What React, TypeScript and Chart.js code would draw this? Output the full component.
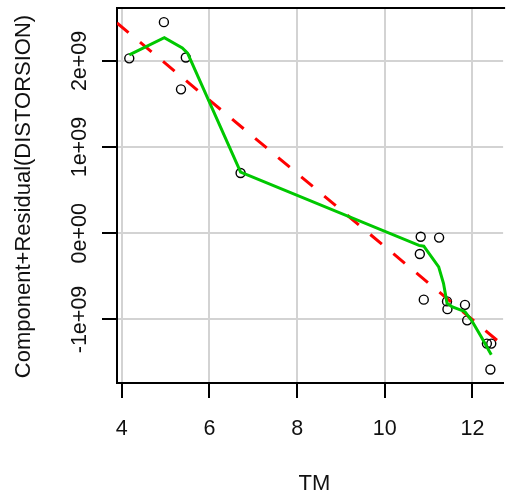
import React, { useEffect, useRef } from "react";
import { Chart, registerables } from "chart.js";

Chart.register(...registerables);

// Observed points (TM vs component+residual)
const TM_VALUES = [4.17, 4.96, 5.35, 5.46, 6.71, 10.80, 10.82, 10.89, 11.24, 11.42, 11.43, 11.83, 11.88, 12.33, 12.43, 12.41];
const RESIDUALS = [2.03e9, 2.45e9, 1.67e9, 2.04e9, 0.70e9, -0.24e9, -0.04e9, -0.77e9, -0.05e9, -0.79e9, -0.88e9, -0.83e9, -1.01e9, -1.28e9, -1.28e9, -1.58e9];

// Smoothed (lowess) curve
const SMOOTH_TM = [4.17, 4.97, 5.38, 5.50, 6.71, 10.78, 10.89, 11.23, 11.34, 11.42, 11.53, 11.83, 11.98, 12.20, 12.43];
const SMOOTH_FIT = [2.07e9, 2.27e9, 2.15e9, 2.09e9, 0.71e9, -0.14e9, -0.15e9, -0.39e9, -0.58e9, -0.81e9, -0.85e9, -0.91e9, -1.01e9, -1.20e9, -1.41e9];

// Linear fit line (end points at plot edges)
const FIT_TM = [3.89, 12.70];
const FIT_VALUES = [2.44e9, -1.30e9];

const X_TICKS = [4, 6, 8, 10, 12];
const X_TICK_LABELS = ["4", "6", "8", "10", "12"];
const Y_TICKS = [-1e9, 0, 1e9, 2e9];
const Y_TICK_LABELS = ["-1e+09", "0e+00", "1e+09", "2e+09"];
const X_LABEL = "TM";
const Y_LABEL = "Component+Residual(DISTORSION)";

const X_MIN = 3.89;
const X_MAX = 12.7;
const Y_MIN = -1.737e9;
const Y_MAX = 2.614e9;

const FONT = '"Liberation Sans", Arial, sans-serif';

const rLabels = {
  id: "rLabels",
  afterDraw(chart: any) {
    const ctx = chart.ctx as CanvasRenderingContext2D;
    const { left, top, right, bottom } = chart.chartArea;
    const xs = chart.scales.x;
    const ys = chart.scales.y;
    ctx.save();
    // top frame line
    ctx.strokeStyle = "#000";
    ctx.lineWidth = 2;
    ctx.beginPath();
    ctx.moveTo(left, top);
    ctx.lineTo(right + 2, top);
    ctx.stroke();

    ctx.fillStyle = "#111";
    ctx.font = `21.5px ${FONT}`;
    ctx.textAlign = "center";
    ctx.textBaseline = "alphabetic";
    X_TICKS.forEach((v, i) => {
      ctx.fillText(X_TICK_LABELS[i], xs.getPixelForValue(v), bottom + 52);
    });
    Y_TICKS.forEach((v, i) => {
      ctx.save();
      ctx.translate(85.5, ys.getPixelForValue(v));
      ctx.rotate(-Math.PI / 2);
      ctx.fillText(Y_TICK_LABELS[i], 0, 0);
      ctx.restore();
    });
    ctx.font = `22px ${FONT}`;
    ctx.fillText(X_LABEL, 314.5, 490);
    ctx.save();
    ctx.translate(29.5, (top + bottom) / 2 + 1);
    ctx.rotate(-Math.PI / 2);
    ctx.fillText(Y_LABEL, 0, 0);
    ctx.restore();
    ctx.restore();
  },
};

export default function App() {
  const ref = useRef<HTMLCanvasElement | null>(null);
  useEffect(() => {
    if (!ref.current) return;
    const chart = new Chart(ref.current, {
      type: "scatter",
      data: {
        datasets: [
          {
            label: "smooth",
            data: SMOOTH_TM.map((x, i) => ({ x, y: SMOOTH_FIT[i] })),
            showLine: true,
            borderColor: "#00C800",
            borderWidth: 3,
            pointRadius: 0,
            order: 0,
          },
          {
            label: "fit",
            data: FIT_TM.map((x, i) => ({ x, y: FIT_VALUES[i] })),
            showLine: true,
            borderColor: "#FF0000",
            borderWidth: 3,
            borderDash: [15, 15],
            pointRadius: 0,
            order: 1,
          },
          {
            label: "points",
            data: TM_VALUES.map((x, i) => ({ x, y: RESIDUALS[i] })),
            pointStyle: "circle",
            pointRadius: 4.5,
            pointBorderWidth: 1.4,
            pointBorderColor: "#000",
            pointBackgroundColor: "rgba(0,0,0,0)",
            order: 2,
          },
        ],
      },
      options: {
        responsive: false,
        animation: false,
        layout: { padding: { top: 8, right: 0, left: 0, bottom: 0 } },
        plugins: { legend: { display: false }, tooltip: { enabled: false } },
        scales: {
          x: {
            type: "linear",
            min: X_MIN,
            max: X_MAX,
            afterBuildTicks: (s: any) => {
              s.ticks = X_TICKS.map((value) => ({ value }));
            },
            afterFit: (s: any) => {
              s.height = 117;
            },
            ticks: { display: false },
            grid: { color: "#d3d3d3", lineWidth: 2, tickColor: "#000", tickLength: 15, tickWidth: 2 },
            border: { color: "#000", width: 2 },
          },
          y: {
            type: "linear",
            min: Y_MIN,
            max: Y_MAX,
            afterBuildTicks: (s: any) => {
              s.ticks = Y_TICKS.map((value) => ({ value }));
            },
            afterFit: (s: any) => {
              s.width = 117;
            },
            ticks: { display: false },
            grid: { color: "#d3d3d3", lineWidth: 2, tickColor: "#000", tickLength: 15, tickWidth: 2 },
            border: { color: "#000", width: 2 },
          },
        },
      },
      plugins: [rLabels],
    });
    return () => chart.destroy();
  }, []);
  return (
    <div style={{ position: "absolute", left: 0, top: 0, width: 509, height: 500, background: "#fff" }}>
      <canvas ref={ref} width={509} height={500} style={{ display: "block" }} />
    </div>
  );
}
